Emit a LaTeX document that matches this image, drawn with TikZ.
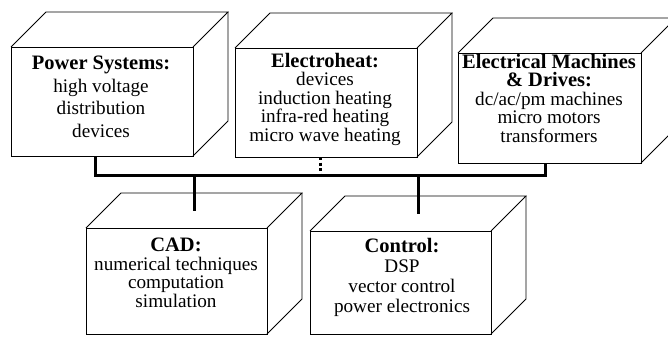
\documentclass[tikz,border=0pt]{standalone}
\usepackage{fontspec}
\setmainfont{Liberation Serif}
\newcommand\hd{\fontsize{20.5}{18.5}\selectfont\bfseries}
\newcommand\mycube[5]{%
  \node[face, minimum width={#4-#2}, minimum height={#5-#3}] (#1) at ({(#2+#4)/2},{(#3+#5)/2}) {};
  \draw[edge] (#1.north west) -- ([shift={(35,-35)}]#1.north west) coordinate (#1-btl)
     -- ([shift={(35,-35)}]#1.north east) coordinate (#1-btr) -- (#1.north east);
  \draw[edge] (#1-btr) -- ([shift={(35,-35)}]#1.south east) -- (#1.south east);
  \coordinate (#1-top) at ([shift={(17.5,-17.5)}]#1.north);
}
\begin{document}
\begin{tikzpicture}[x=1pt,y=-1pt,
  face/.style={draw, line width=0.8pt, inner sep=0pt, outer sep=0pt},
  edge/.style={line width=0.8pt, line join=miter},
  txt/.style={font=\fontsize{19.2}{18.5}\selectfont, align=center, anchor=base, inner sep=0pt},
  bus/.style={line width=3pt},
  dashbus/.style={line width=3pt, dash pattern=on 3pt off 2.5pt}]
\fill[white] (0,0) rectangle (668,337);
\clip (0,0) rectangle (668,337);
% upper boxes
\mycube{ps}{11}{47}{193}{156}
\mycube{eh}{235}{48}{417}{157}
\mycube{em}{458}{53}{641}{163}
% lower boxes
\mycube{cad}{86}{228}{267}{334}
\mycube{ctl}{310}{231}{491}{334}
% texts (anchored at the baseline of the last line)
\node[txt] (ps-t) at (101,137) {{\hd Power Systems:}\\[4pt]high voltage\\[4pt]distribution\\[4pt]devices};
\node[txt] (eh-t) at (325,141) {{\hd Electroheat:}\\devices\\induction heating\\infra-red heating\\micro wave heating};
\node[txt] (em-t) at (549,142) {{\hd Electrical Machines}\\{\hd \& Drives:}\\dc/ac/pm machines\\micro motors\\transformers};
\node[txt] (cad-t) at (176,307) {{\hd CAD:}\\numerical techniques\\computation\\simulation};
\node[txt] (ctl-t) at (402,312) {{\hd Control:}\\[1.5pt]DSP\\[1.5pt]vector control\\[1.5pt]power electronics};
% bus
\coordinate (bl) at (95,175);
\coordinate (br) at (545,175);
\coordinate (be) at (320,175);
\draw[bus, line join=miter] (ps.south -| bl) -- (bl) -- (br) -- (em.south -| br);
\draw[dashbus] (eh.south -| be) -- (be);
\draw[bus] (cad-top |- bl) -- (cad-top);
\draw[bus] (ctl-top |- bl) -- (ctl-top);
\end{tikzpicture}
\end{document}
